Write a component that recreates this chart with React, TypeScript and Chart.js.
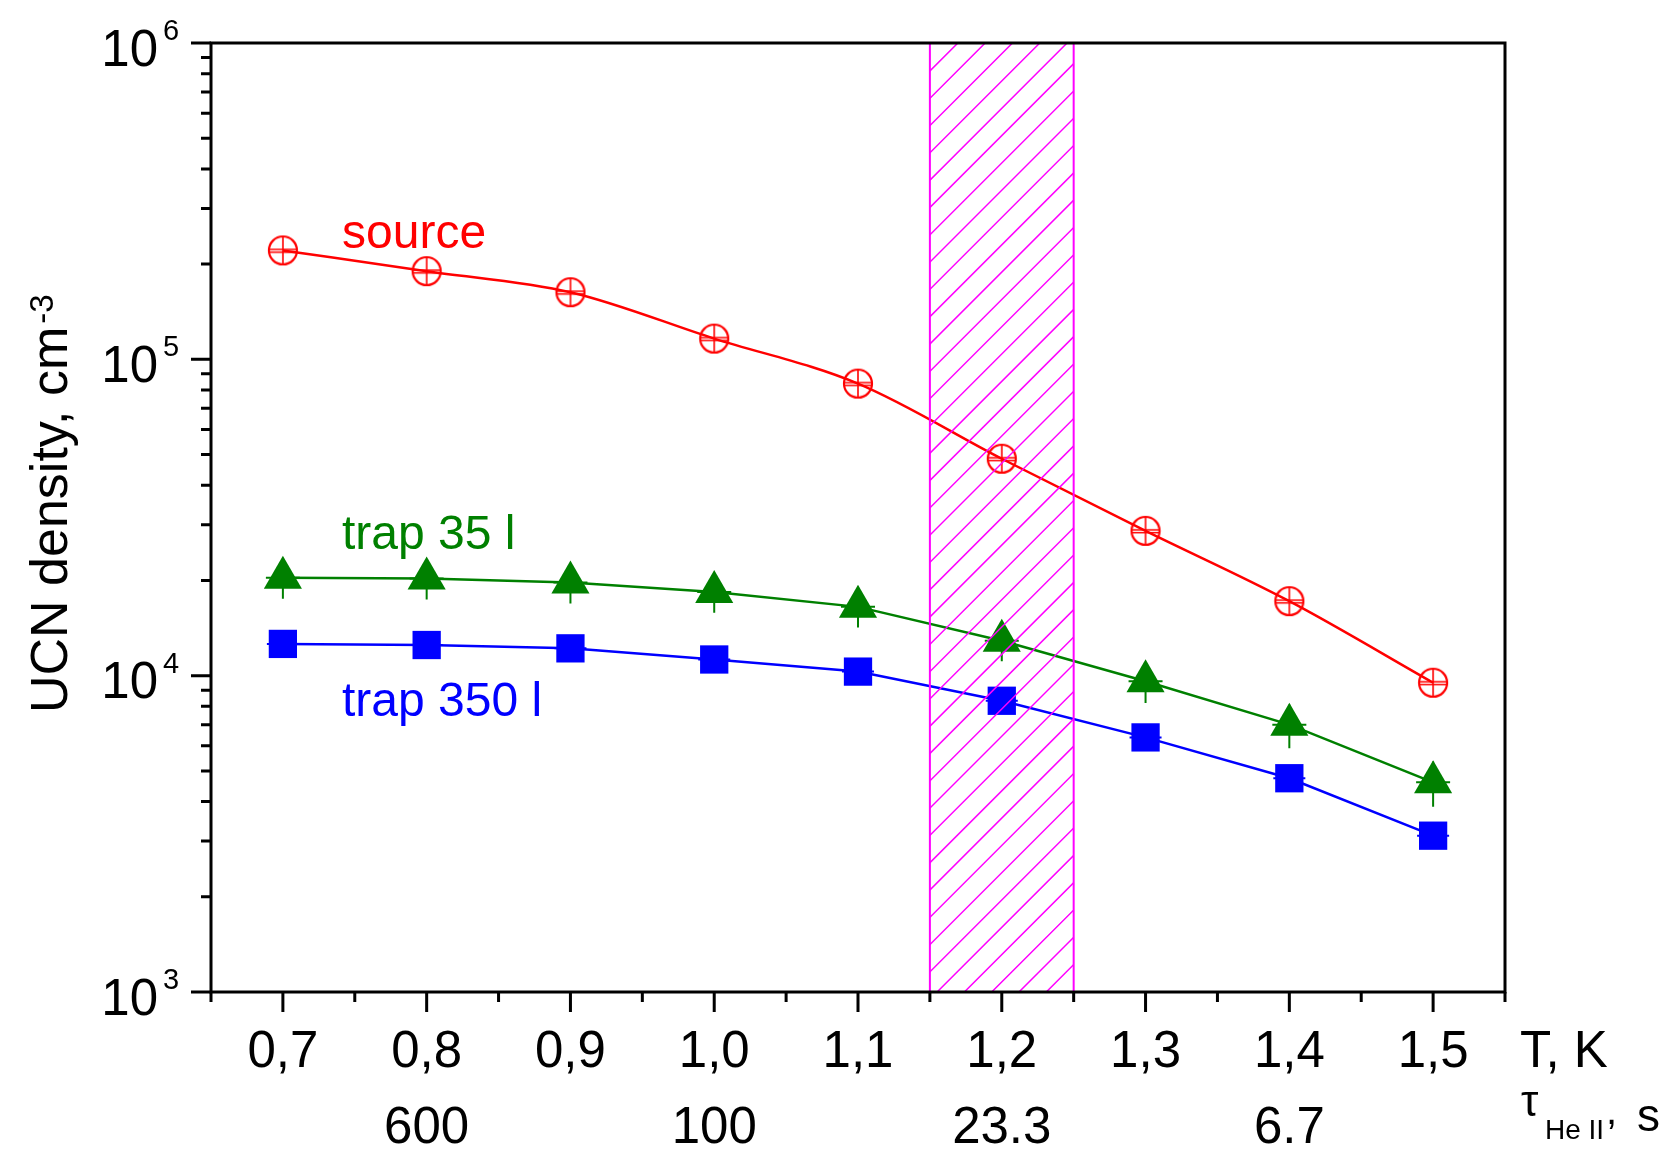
import { useEffect, useRef } from "react";
import { Chart, registerables } from "chart.js";

Chart.register(...registerables);

// ---------- data ----------
const temperatures = [0.7, 0.8, 0.9, 1.0, 1.1, 1.2, 1.3, 1.4, 1.5];
const sourceDensity = [221000, 190000, 163000, 116300, 83800, 48500, 28700, 17200, 9500];
const trap35Density = [20400, 20300, 19700, 18400, 16500, 12900, 9600, 7000, 4600];
const trap35Error = [2900, 2900, 2800, 2600, 2300, 1800, 1400, 1100, 750];
const trap350Density = [12600, 12500, 12200, 11250, 10300, 8330, 6380, 4740, 3120];
const trap350Error = [600, 600, 600, 550, 500, 400, 300, 250, 150];

const xMajorTicks = [0.7, 0.8, 0.9, 1.0, 1.1, 1.2, 1.3, 1.4, 1.5];
const xMajorLabels = ["0,7", "0,8", "0,9", "1,0", "1,1", "1,2", "1,3", "1,4", "1,5"];
const xMinorTicks = [0.65, 0.75, 0.85, 0.95, 1.05, 1.15, 1.25, 1.35, 1.45, 1.55];
const tauPositions = [0.8, 1.0, 1.2, 1.4];
const tauLabels = ["600", "100", "23.3", "6.7"];
const yDecades = [1e3, 1e4, 1e5, 1e6];
const yExponents = ["3", "4", "5", "6"];
const yMinorMultipliers = [2, 3, 4, 5, 6, 7, 8, 9];
const hatchRange = [1.15, 1.25];

const FONT = '"Liberation Sans", Arial, sans-serif';
const RED = "#ff0000";
const GREEN = "#008000";
const BLUE = "#0000ff";
const MAGENTA = "#ff00ff";

function makeSourceMarker(): HTMLCanvasElement {
  const c = document.createElement("canvas");
  c.width = 32;
  c.height = 32;
  const g = c.getContext("2d")!;
  g.strokeStyle = RED;
  g.lineWidth = 2.2;
  g.beginPath();
  g.arc(16, 16, 14, 0, Math.PI * 2);
  g.stroke();
  g.lineWidth = 1.6;
  g.beginPath();
  g.moveTo(16, 2);
  g.lineTo(16, 30);
  g.moveTo(2, 15);
  g.lineTo(30, 15);
  g.moveTo(2, 17.8);
  g.lineTo(30, 17.8);
  g.stroke();
  return c;
}

const decorPlugin = {
  id: "decor",
  afterDatasetsDraw(chart: any) {
    const ctx = chart.ctx as CanvasRenderingContext2D;
    const xs = chart.scales.x;
    const ys = chart.scales.y;
    const { top, bottom } = chart.chartArea;

    // error bars
    const drawErr = (vals: number[], errs: number[], color: string, cap: number) => {
      ctx.save();
      ctx.strokeStyle = color;
      ctx.lineWidth = 2;
      vals.forEach((v, i) => {
        const x = xs.getPixelForValue(temperatures[i]);
        const y = ys.getPixelForValue(v);
        const yl = ys.getPixelForValue(v - errs[i]);
        const yu = ys.getPixelForValue(v + errs[i]);
        ctx.beginPath();
        ctx.moveTo(x, yu);
        ctx.lineTo(x, yl);
        ctx.moveTo(x - cap, y);
        ctx.lineTo(x + cap, y);
        ctx.stroke();
      });
      ctx.restore();
    };
    drawErr(trap35Density, trap35Error, GREEN, 17);
    drawErr(trap350Density, trap350Error, BLUE, 16);

    // hatched region
    const xl = xs.getPixelForValue(hatchRange[0]);
    const xr = xs.getPixelForValue(hatchRange[1]);
    ctx.save();
    ctx.beginPath();
    ctx.rect(xl, top, xr - xl, bottom - top);
    ctx.clip();
    ctx.strokeStyle = MAGENTA;
    ctx.lineWidth = 1.5;
    const step = 27.3;
    let c0 = xl + top + 28;
    while (c0 > xl + top) c0 -= step;
    ctx.beginPath();
    for (let c = c0; c <= xr + bottom + step; c += step) {
      ctx.moveTo(c - top, top);
      ctx.lineTo(c - bottom, bottom);
    }
    ctx.stroke();
    ctx.restore();
    ctx.save();
    ctx.strokeStyle = MAGENTA;
    ctx.lineWidth = 2;
    ctx.strokeRect(xl, top, xr - xl, bottom - top);
    ctx.restore();
  },
  afterDraw(chart: any) {
    const ctx = chart.ctx as CanvasRenderingContext2D;
    const xs = chart.scales.x;
    const ys = chart.scales.y;
    const { left, right, top, bottom } = chart.chartArea;

    ctx.save();
    ctx.strokeStyle = "#000";
    ctx.lineWidth = 3;
    ctx.strokeRect(left, top, right - left, bottom - top);

    // x ticks
    ctx.beginPath();
    xMajorTicks.forEach((t) => {
      const x = xs.getPixelForValue(t);
      ctx.moveTo(x, bottom);
      ctx.lineTo(x, bottom + 20);
    });
    xMinorTicks.forEach((t) => {
      const x = xs.getPixelForValue(t);
      ctx.moveTo(x, bottom);
      ctx.lineTo(x, bottom + 10);
    });
    // y ticks
    yDecades.forEach((d, i) => {
      const y = ys.getPixelForValue(d);
      ctx.moveTo(left - 20, y);
      ctx.lineTo(left, y);
      if (i < yDecades.length - 1) {
        yMinorMultipliers.forEach((m) => {
          const ym = ys.getPixelForValue(d * m);
          ctx.moveTo(left - 10, ym);
          ctx.lineTo(left, ym);
        });
      }
    });
    ctx.stroke();

    // x tick labels
    ctx.fillStyle = "#000";
    ctx.textAlign = "center";
    ctx.textBaseline = "alphabetic";
    ctx.font = `51px ${FONT}`;
    xMajorTicks.forEach((t, i) => {
      ctx.fillText(xMajorLabels[i], xs.getPixelForValue(t), 1067);
    });
    tauPositions.forEach((t, i) => {
      ctx.fillText(tauLabels[i], xs.getPixelForValue(t), 1143);
    });

    // y tick labels
    yDecades.forEach((d, i) => {
      const y = ys.getPixelForValue(d);
      ctx.textAlign = "right";
      ctx.font = `51px ${FONT}`;
      ctx.fillText("10", 158, y + 22.5);
      ctx.textAlign = "left";
      ctx.font = `29px ${FONT}`;
      ctx.fillText(yExponents[i], 163, y - 3);
    });

    // x axis titles
    ctx.textAlign = "left";
    ctx.font = `51px ${FONT}`;
    ctx.fillText("T, K", 1520, 1067);
    ctx.font = `44px ${FONT}`;
    ctx.fillText("τ", 1521, 1116);
    ctx.font = `28px ${FONT}`;
    ctx.fillText("He II", 1545, 1139);
    ctx.font = `40px ${FONT}`;
    ctx.fillText(",", 1606, 1124);
    ctx.font = `46px ${FONT}`;
    ctx.fillText("s", 1637, 1131);

    // y axis title
    ctx.save();
    ctx.translate(67, 713);
    ctx.rotate(-Math.PI / 2);
    ctx.font = `52px ${FONT}`;
    const main = "UCN density, cm";
    ctx.fillText(main, 0, 0);
    const w = ctx.measureText(main).width;
    ctx.font = `33px ${FONT}`;
    ctx.fillText("-3", w + 3, -14);
    ctx.restore();

    // series annotations
    ctx.font = `48px ${FONT}`;
    ctx.fillStyle = RED;
    ctx.fillText("source", 342, 248);
    ctx.fillStyle = GREEN;
    ctx.fillText("trap 35 l", 342, 549);
    ctx.fillStyle = BLUE;
    ctx.fillText("trap 350 l", 342, 716);
    ctx.restore();
  },
};

export default function App() {
  const ref = useRef<HTMLCanvasElement | null>(null);

  useEffect(() => {
    if (!ref.current) return;
    const marker = makeSourceMarker();
    const pts = (vals: number[]) => vals.map((v, i) => ({ x: temperatures[i], y: v }));
    const chart = new Chart(ref.current, {
      type: "line",
      data: {
        datasets: [
          {
            label: "source",
            data: pts(sourceDensity),
            borderColor: RED,
            borderWidth: 2.5,
            cubicInterpolationMode: "monotone",
            pointStyle: marker as any,
            pointRadius: 15,
            pointBorderWidth: 0,
          },
          {
            label: "trap 35 l",
            data: pts(trap35Density),
            borderColor: GREEN,
            borderWidth: 2.5,
            tension: 0,
            pointStyle: "triangle",
            pointRadius: 22,
            pointBackgroundColor: GREEN,
            pointBorderColor: GREEN,
            pointBorderWidth: 0,
          },
          {
            label: "trap 350 l",
            data: pts(trap350Density),
            borderColor: BLUE,
            borderWidth: 2.5,
            tension: 0,
            pointStyle: "rect",
            pointRadius: 20,
            pointBackgroundColor: BLUE,
            pointBorderColor: BLUE,
            pointBorderWidth: 0,
          },
        ],
      } as any,
      options: {
        animation: false,
        responsive: false,
        devicePixelRatio: 1,
        layout: { padding: { left: 211, right: 165, top: 43, bottom: 161 } },
        plugins: { legend: { display: false }, tooltip: { enabled: false } },
        scales: {
          x: { type: "linear", min: 0.65, max: 1.55, display: false },
          y: { type: "logarithmic", min: 1000, max: 1000000, display: false },
        },
      } as any,
      plugins: [decorPlugin],
    });
    return () => chart.destroy();
  }, []);

  return (
    <div style={{ position: "absolute", left: 0, top: 0, width: 1670, height: 1153, background: "#fff" }}>
      <canvas ref={ref} width={1670} height={1153} style={{ width: 1670, height: 1153 }} />
    </div>
  );
}
